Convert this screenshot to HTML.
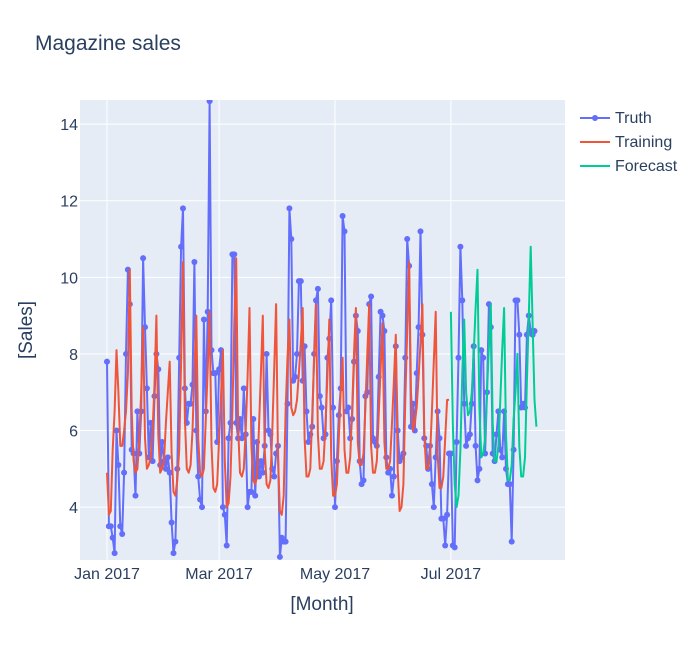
<!DOCTYPE html>
<html><head><meta charset="utf-8"><style>
body{margin:0;background:#fff;font-family:"Liberation Sans",sans-serif}
svg text{font-family:"Liberation Sans",sans-serif;fill:#2a3f5f}
</style></head><body>
<svg id="c" width="700" height="640" xmlns="http://www.w3.org/2000/svg"></svg>
<script>
const truth=[7.8,3.5,3.5,3.2,2.8,6.0,5.1,3.5,3.3,4.9,8.0,10.2,
9.3,5.5,5.4,4.3,6.5,5.4,6.5,10.5,8.7,
7.1,5.3,6.2,5.2,6.9,8.0,7.6,5.1,5.7,
5.2,5.0,5.3,4.9,3.6,2.8,3.1,5.0,7.9,10.8,11.8,
7.1,6.2,6.7,6.7,7.2,10.4,6.0,
4.8,4.2,4.0,8.9,6.5,9.1,14.6,8.1,
7.5,7.5,5.7,7.6,8.1,4.0,3.8,
3.0,5.8,6.2,10.6,10.6,6.2,5.8,
6.3,5.8,7.1,5.9,4.0,4.4,4.4,
6.3,4.3,5.7,4.8,5.2,4.9,5.6,8.0,
6.0,5.9,5.0,4.8,5.4,5.6,2.7,3.2,3.1,3.1,6.7,11.8,
11.0,7.3,7.4,8.0,9.9,
9.9,7.3,8.2,6.5,5.7,5.9,6.1,8.0,9.4,9.7,
6.9,6.6,5.8,5.9,7.9,8.4,9.4,6.6,4.0,5.2,6.4,7.1,11.6,11.2,
6.5,6.6,5.8,6.3,7.8,9.0,8.6,
5.2,4.6,4.7,6.9,7.0,9.3,9.5,
5.8,5.7,5.6,7.4,9.1,9.0,8.6,
5.3,4.9,5.0,4.3,4.8,8.2,6.0,
5.2,5.3,5.4,7.9,11.0,10.3,6.1,
6.7,6.0,7.5,8.7,11.2,8.5,5.8,
5.6,5.0,5.6,4.6,4.0,5.3,6.5,5.8,
3.7,3.7,3.0,3.8,5.4,5.4,
3.0,2.95,5.7,7.9,10.8,9.4,
6.7,5.6,5.8,5.9,6.7,8.2,5.6,4.7,5.0,8.1,
7.9,5.4,7.0,9.3,8.7,
5.4,5.2,5.9,6.5,5.5,5.3,6.5,
5.0,4.6,4.6,3.1,5.5,9.4,9.4,
8.5,6.6,6.7,6.6,8.5,9.0,
8.6,8.5,8.6];
const training=[4.9,3.8,3.9,5.5,6.5,
8.1,7.0,5.6,5.6,6.0,6.5,7.5,
10.2,6.5,5.2,4.9,5.0,5.8,7.0,
8.7,5.8,5.0,5.1,5.3,6.0,7.2,
9.0,5.9,4.9,5.0,5.2,6.2,7.0,
7.8,5.4,4.4,4.3,4.7,5.5,7.8,
10.4,6.3,5.0,4.9,5.1,6.0,7.5,
9.0,5.8,4.9,4.8,5.0,6.3,7.6,
9.1,5.6,4.5,4.4,4.6,5.8,6.9,
8.1,5.2,4.0,4.1,4.8,6.5,8.8,
10.5,6.1,4.9,4.8,5.0,6.0,7.4,
9.2,5.6,4.7,4.6,4.8,6.1,7.5,
9.0,5.5,4.6,4.5,4.7,6.0,7.6,
9.3,5.3,3.9,3.8,4.3,6.5,7.9,
8.9,6.6,6.4,6.5,6.8,7.5,8.3,
9.2,5.8,4.8,4.8,5.0,6.4,7.8,
9.3,5.9,5.0,5.0,5.2,6.2,7.4,
8.9,5.3,4.3,4.3,4.6,5.8,7.0,
7.9,5.5,4.9,4.9,5.3,6.5,8.0,
9.2,5.7,5.1,5.1,5.4,6.6,8.0,
9.3,5.6,4.9,4.9,5.2,6.4,7.6,
8.8,5.7,5.0,5.0,5.2,6.2,7.3,
8.5,5.0,3.9,4.0,4.6,6.8,8.6,
10.4,7.0,6.0,6.2,6.6,7.4,8.3,
9.3,5.9,5.0,5.0,5.3,6.5,7.8,
9.1,5.4,4.5,4.5,4.8,5.8,6.8,
6.8];
const forecastStart=181;
const forecast=[9.1,6.2,4.6,4.0,4.3,5.5,7.5,
8.9,7.0,6.4,6.5,7.0,8.0,9.2,
10.2,6.6,5.3,5.4,5.8,7.0,8.2,
9.3,6.2,5.2,5.2,5.6,6.8,8.1,
9.2,5.9,4.7,4.7,5.1,6.3,7.0,
8.0,5.6,4.8,4.8,5.3,7.3,9.0,
10.8,8.8,6.8,6.1];
const yTicks=[4,6,8,10,12,14];
const xTickDays=[0,59,120,181];
const xTickLabels=["Jan 2017","Mar 2017","May 2017","Jul 2017"];

const svg=document.getElementById('c');const NS='http://www.w3.org/2000/svg';
const L=80,R=565,T=100,B=560,ymin=2.62,ymax=14.63;
const X=d=>107+d*1.9;
const Y=v=>B-(v-ymin)/(ymax-ymin)*(B-T);
function mk(t,a,p){const e=document.createElementNS(NS,t);for(const k in a)e.setAttribute(k,a[k]);(p||svg).appendChild(e);return e;}
let e=mk('rect',{x:L,y:T,width:R-L,height:B-T,fill:'#e5ecf6'});


yTicks.forEach(v=>{
 let g=mk('line',{x1:L,x2:R,y1:Y(v),y2:Y(v),stroke:'#fff','stroke-width':1});
 
 
 let t=mk('text',{x:L-2,y:Y(v)+6,'text-anchor':'end','font-size':16});t.textContent=v;
 
 
});
xTickDays.forEach((d,i)=>{
 let g=mk('line',{x1:X(d),x2:X(d),y1:T,y2:B,stroke:'#fff','stroke-width':1});
 
 
 let t=mk('text',{x:X(d),y:B+19,'text-anchor':'middle','font-size':16});t.textContent=xTickLabels[i];
 
 
});
const clip=mk('clipPath',{id:'cp'});mk('rect',{x:L,y:T,width:R-L,height:B-T},clip);
const gp=mk('g',{'clip-path':'url(#cp)'});
function line(arr,start,color,name){
 const p=arr.map((v,i)=>X(start+i).toFixed(1)+','+Y(v).toFixed(1)).join(' ');
 const l=mk('polyline',{points:p,fill:'none',stroke:color,'stroke-width':2,'stroke-linejoin':'round'},gp);
 
 
}
line(truth,0,'#636efa','truth-line');
truth.forEach((v,i)=>{
 const c=mk('circle',{cx:X(i),cy:Y(v),r:3,fill:'#636efa'},gp);
 
 
});
line(training,0,'#ef553b','training-line');
line(forecast,forecastStart,'#00cc96','forecast-line');
let t=mk('text',{x:35,y:50,'font-size':21});t.textContent='Magazine sales';


t=mk('text',{x:322,y:610,'text-anchor':'middle','font-size':19});t.textContent='[Month]';


t=mk('text',{x:32,y:330,'text-anchor':'middle','font-size':19,transform:'rotate(-90 32 330)'});t.textContent='[Sales]';


[['Truth','#636efa',true],['Training','#ef553b',false],['Forecast','#00cc96',false]].forEach((s,i)=>{
 const y=118+i*24;
 const g=mk('g',{});
 
 
 mk('line',{x1:580,x2:610,y1:y,y2:y,stroke:s[1],'stroke-width':2},g);
 if(s[2])mk('circle',{cx:595,cy:y,r:3,fill:s[1]},g);
 const tx=mk('text',{x:615,y:y+5,'font-size':16},g);tx.textContent=s[0];
});
</script>
</body></html>
